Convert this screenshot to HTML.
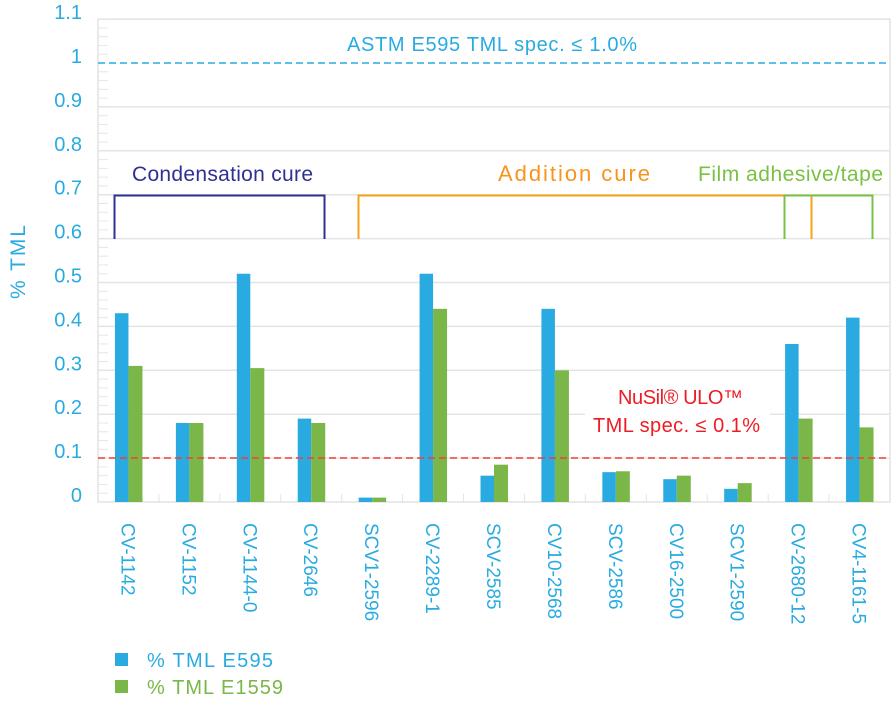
<!DOCTYPE html>
<html><head><meta charset="utf-8"><style>
html,body{margin:0;padding:0;background:#fff;}
svg{display:block;font-family:"Liberation Sans",sans-serif;}
</style></head><body>
<svg id="chart" width="894" height="705" viewBox="0 0 894 705" xmlns="http://www.w3.org/2000/svg">
<g id="grid"></g>
<g id="yaxis"></g>
<g id="bars"></g>
<g id="xaxis"></g>
<text transform="translate(25,262) rotate(-90)" text-anchor="middle" font-size="21" textLength="74" fill="#29abe2">% TML</text>
<g>
<line x1="98" x2="890" y1="63" y2="63" stroke="#29abe2" stroke-width="1.5" stroke-dasharray="7,4"/>
<text x="347" y="51" font-size="20" textLength="290" fill="#29abe2">ASTM E595 TML spec. ≤ 1.0%</text>
<line x1="98" x2="890" y1="458" y2="458" stroke="#ef4136" stroke-width="1.5" stroke-dasharray="7,4"/>
<rect x="585" y="375" width="185" height="60" fill="#fff"/>
<text x="618" y="404" font-size="20" textLength="125" fill="#ed1c24">NuSil® ULO™</text>
<text x="593" y="432" font-size="20" textLength="167" fill="#ed1c24">TML spec. ≤ 0.1%</text>
<path d="M114.5,239 V195.5 H324.5 V239" fill="none" stroke="#2e3192" stroke-width="2"/>
<text x="132" y="181" font-size="21" textLength="181" fill="#2e3192">Condensation cure</text>
<path d="M358.5,239 V195.5 H811.5 V239" fill="none" stroke="#f7a21b" stroke-width="2"/>
<text x="498" y="181" font-size="22" textLength="152" fill="#f7941d">Addition cure</text>
<path d="M784.5,239 V195.5 H872.5 V239" fill="none" stroke="#7ac143" stroke-width="2"/>
<text x="698" y="181" font-size="21" textLength="185" fill="#7ac143">Film adhesive/tape</text>
</g>
<g>
<rect x="115" y="653" width="13" height="13" fill="#29abe2"/>
<text x="147" y="667" font-size="20" textLength="126" fill="#29abe2">% TML E595</text>
<rect x="115" y="680" width="13" height="13" fill="#7ab648"/>
<text x="147" y="694" font-size="20" textLength="136" fill="#7ab648">% TML E1559</text>
</g>
</svg>
<script>
const categories = ["CV-1142","CV-1152","CV-1144-0","CV-2646","SCV1-2596","CV-2289-1","SCV-2585","CV10-2568","SCV-2586","CV16-2500","SCV1-2590","CV-2680-12","CV4-1161-5"];
const e595 = [0.43,0.18,0.52,0.19,0.01,0.52,0.06,0.44,0.068,0.052,0.03,0.36,0.42];
const e1559 = [0.31,0.18,0.305,0.18,0.01,0.44,0.085,0.30,0.07,0.06,0.043,0.19,0.17];
const yTicks = [0,0.1,0.2,0.3,0.4,0.5,0.6,0.7,0.8,0.9,1,1.1];
const yTickLabels = ["0","0.1","0.2","0.3","0.4","0.5","0.6","0.7","0.8","0.9","1","1.1"];

const NS="http://www.w3.org/2000/svg";
const L=98,R=890,Y0=502,PX=439;
const y=v=>Y0-v*PX;
const band=(R-L)/categories.length;
const xc=i=>L+band*i+band/2;
function mk(t,parent){const e=document.createElementNS(NS,t);parent.appendChild(e);return e;}
const grid=document.getElementById('grid'),ya=document.getElementById('yaxis'),bars=document.getElementById('bars'),xa=document.getElementById('xaxis');

const frame=mk('rect',grid);


frame.setAttribute('x',L);frame.setAttribute('y',y(1.1));frame.setAttribute('width',R-L);frame.setAttribute('height',Y0-y(1.1));
frame.setAttribute('fill','none');frame.setAttribute('stroke','#e2e2e2');frame.setAttribute('stroke-width','1.5');

for(let v=0;v<=1.1001;v+=0.02){
  const t=mk('line',grid);
  
  
  t.setAttribute('x1',L);t.setAttribute('x2',L+10);t.setAttribute('y1',y(v));t.setAttribute('y2',y(v));
  t.setAttribute('stroke','#e6e6e6');t.setAttribute('stroke-width','1');
}
yTicks.forEach((v,i)=>{
  if(v>0&&v<1.1&&v!==1){
    const g=mk('line',grid);
    
    
    g.setAttribute('x1',L);g.setAttribute('x2',R);g.setAttribute('y1',y(v));g.setAttribute('y2',y(v));
    g.setAttribute('stroke','#e4e4e4');g.setAttribute('stroke-width','1.5');
  }
  const t=mk('text',ya);
  
  
  t.setAttribute('x',82);t.setAttribute('y',y(v));t.setAttribute('text-anchor','end');
  t.setAttribute('font-size','20');t.setAttribute('fill','#29abe2');
  t.textContent=yTickLabels[i];
});
for(let i=1;i<categories.length;i++){
  const t=mk('line',grid);
  
  
  const x=L+band*i;
  t.setAttribute('x1',x);t.setAttribute('x2',x);t.setAttribute('y1',Y0-8);t.setAttribute('y2',Y0);
  t.setAttribute('stroke','#e4e4e4');
}
categories.forEach((c,i)=>{
  const b=mk('rect',bars);
  
  
  b.setAttribute('x',xc(i)-13.5);b.setAttribute('width',13.5);
  b.setAttribute('y',y(e595[i]));b.setAttribute('height',Y0-y(e595[i]));b.setAttribute('fill','#29abe2');
  const g=mk('rect',bars);
  
  
  g.setAttribute('x',xc(i));g.setAttribute('width',14);
  g.setAttribute('y',y(e1559[i]));g.setAttribute('height',Y0-y(e1559[i]));g.setAttribute('fill','#7ab648');
  const t=mk('text',xa);
  
  
  t.setAttribute('transform','translate('+(xc(i)-7)+',523) rotate(90)');
  t.setAttribute('font-size','19');t.setAttribute('fill','#29abe2');
  t.textContent=c;
});
</script>
</body></html>
